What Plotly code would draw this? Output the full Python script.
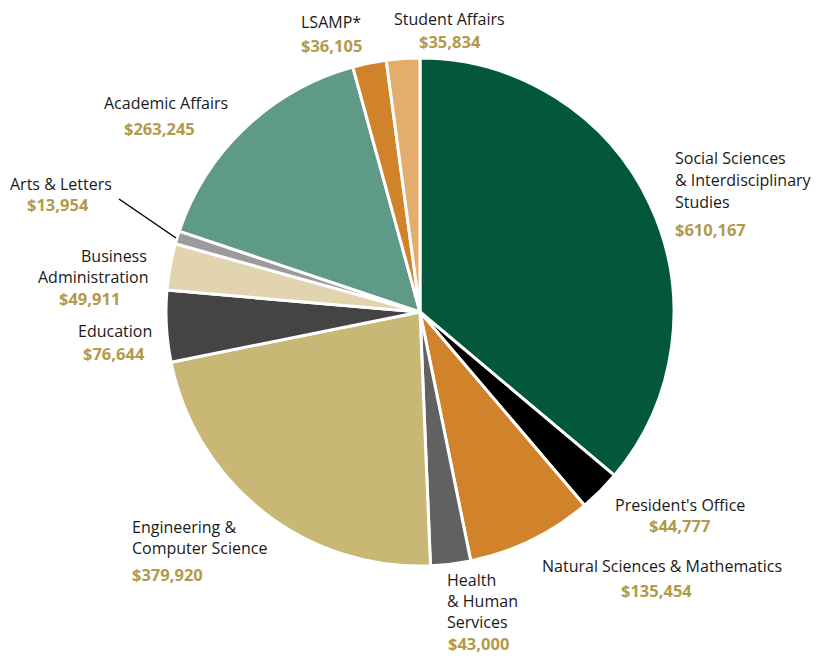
import plotly.graph_objects as go

W, H = 819, 666
OFF = 8  # page body margin
FW, FH = W - 2 * OFF, H - 2 * OFF

categories = ["Social Sciences & Interdisciplinary Studies", "President's Office",
              "Natural Sciences & Mathematics", "Health & Human Services",
              "Engineering & Computer Science", "Education", "Business Administration",
              "Arts & Letters", "Academic Affairs", "LSAMP*", "Student Affairs"]
values = [610167, 44777, 135454, 43000, 379920, 76644, 49911, 13954, 263245, 36105, 35834]
value_labels = ["$610,167", "$44,777", "$135,454", "$43,000", "$379,920", "$76,644",
                "$49,911", "$13,954", "$263,245", "$36,105", "$35,834"]
colors = ["#02573D", "#000000", "#D0832A", "#616161", "#C9B776", "#444444",
          "#E3D4B0", "#9B9B9D", "#5E9A87", "#D0832A", "#E3AE6C"]

name_lines = [
    ["Social Sciences", "& Interdisciplinary", "Studies"],
    ["President's Office"],
    ["Natural Sciences & Mathematics"],
    ["Health", "& Human", "Services"],
    ["Engineering &", "Computer Science"],
    ["Education"],
    ["Business", "Administration"],
    ["Arts & Letters"],
    ["Academic Affairs"],
    ["LSAMP*"],
    ["Student Affairs"],
]
# (x, first-line y, anchor, value x, value y) in page pixels
label_pos = [
    (673, 158, "left", 673, 229),
    (680, 505, "center", 679, 525),
    (662, 566, "center", 656, 590),
    (445, 580, "left", 446, 643),
    (130, 527, "left", 130, 574),
    (115, 331, "center", 114, 354),
    (None, 256, "custom", 89, 298),
    (61, 184, "center", 58, 204),
    (166, 103, "center", 159, 128),
    (331, 22, "center", 331, 45),
    (449, 19, "center", 450, 42),
]
custom_business = [(114, 256), (93, 277)]

font_family = "Open Sans"
name_color = "#1a1a1a"
value_color = "#B39A4A"
line_h = 21


def px(x):
    return (x - OFF) / FW


def py(y):
    return 1 - (y - OFF) / FH


fig = go.Figure()
fig.add_trace(go.Pie(
    labels=categories, values=values, sort=False, direction="clockwise", rotation=0,
    marker=dict(colors=colors, line=dict(color="white", width=3)),
    textinfo="none", hoverinfo="label+value", showlegend=False,
    domain=dict(x=[px(166), px(674)], y=[py(567), py(57)]),
))

annotations = []
for i, lines in enumerate(name_lines):
    x, y0, anchor, vx, vy = label_pos[i]
    for j, ln in enumerate(lines):
        if anchor == "custom":
            cx, cy = custom_business[j]
            xa = "center"
        else:
            cx, cy = x, y0 + j * (line_h if i != 0 else 22)
            xa = anchor
        annotations.append(dict(
            x=px(cx), y=py(cy), xref="paper", yref="paper", text=ln, showarrow=False,
            xanchor=xa, yanchor="middle",
            font=dict(family=font_family, size=16, color=name_color)))
    vxa = "left" if anchor == "left" else "center"
    annotations.append(dict(
        x=px(vx), y=py(vy), xref="paper", yref="paper", text="<b>" + value_labels[i] + "</b>",
        showarrow=False, xanchor=vxa, yanchor="middle",
        font=dict(family=font_family, size=16.5, color=value_color)))

fig.update_layout(
    width=FW, height=FH, margin=dict(l=0, r=0, t=0, b=0),
    paper_bgcolor="white", plot_bgcolor="white",
    annotations=annotations,
    shapes=[dict(type="line", xref="paper", yref="paper",
                 x0=px(119), y0=py(199), x1=px(176), y1=py(238),
                 line=dict(color="black", width=1.5))],
)

fig.write_html("out.html")
